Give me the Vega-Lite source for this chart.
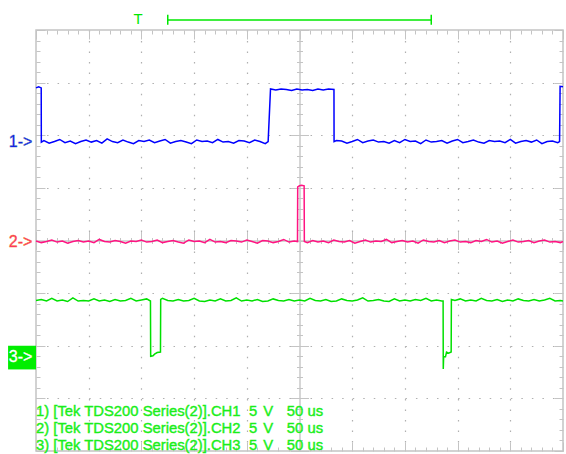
{
  "$schema": "https://vega.github.io/schema/vega-lite/v6.json",
  "width": 527,
  "height": 421,
  "autosize": {"type": "none"},
  "padding": {"left": 36, "top": 30, "right": 3, "bottom": 3},
  "background": "white",
  "config": {
    "view": {"stroke": "#c4c4c4", "strokeWidth": 1.5},
    "axis": {"labels": false, "domain": false, "grid": false, "tickColor": "#c4c4c4", "tickWidth": 1},
    "text": {"font": "Liberation Sans"}
  },
  "resolve": {"axis": {"x": "independent", "y": "independent"}},
  "datasets": {
    "traces": [
      {"c":"CH1","x":0,"y":2.9},{"c":"CH1","x":0.05,"y":2.92},{"c":"CH1","x":0.099,"y":2.9},{"c":"CH1","x":0.101,"y":1.87},
      {"c":"CH1","x":0.15,"y":1.9},{"c":"CH1","x":0.25,"y":1.85},{"c":"CH1","x":0.35,"y":1.88},{"c":"CH1","x":0.45,"y":1.92},{"c":"CH1","x":0.55,"y":1.86},{"c":"CH1","x":0.65,"y":1.89},{"c":"CH1","x":0.75,"y":1.84},{"c":"CH1","x":0.85,"y":1.88},{"c":"CH1","x":0.95,"y":1.91},{"c":"CH1","x":1.05,"y":1.87},
      {"c":"CH1","x":1.15,"y":1.9},{"c":"CH1","x":1.25,"y":1.85},{"c":"CH1","x":1.35,"y":1.93},{"c":"CH1","x":1.45,"y":1.88},{"c":"CH1","x":1.55,"y":1.86},{"c":"CH1","x":1.65,"y":1.91},{"c":"CH1","x":1.75,"y":1.87},{"c":"CH1","x":1.85,"y":1.84},{"c":"CH1","x":1.95,"y":1.9},{"c":"CH1","x":2.05,"y":1.88},
      {"c":"CH1","x":2.15,"y":1.91},{"c":"CH1","x":2.25,"y":1.86},{"c":"CH1","x":2.35,"y":1.89},{"c":"CH1","x":2.45,"y":1.92},{"c":"CH1","x":2.55,"y":1.85},{"c":"CH1","x":2.65,"y":1.88},{"c":"CH1","x":2.75,"y":1.9},{"c":"CH1","x":2.85,"y":1.87},{"c":"CH1","x":2.95,"y":1.84},{"c":"CH1","x":3.05,"y":1.91},
      {"c":"CH1","x":3.15,"y":1.88},{"c":"CH1","x":3.25,"y":1.89},{"c":"CH1","x":3.35,"y":1.86},{"c":"CH1","x":3.45,"y":1.92},{"c":"CH1","x":3.55,"y":1.87},{"c":"CH1","x":3.65,"y":1.88},{"c":"CH1","x":3.75,"y":1.85},{"c":"CH1","x":3.85,"y":1.9},{"c":"CH1","x":3.95,"y":1.89},{"c":"CH1","x":4.05,"y":1.86},
      {"c":"CH1","x":4.15,"y":1.91},{"c":"CH1","x":4.25,"y":1.88},{"c":"CH1","x":4.35,"y":1.84},{"c":"CH1","x":4.405,"y":1.88},{"c":"CH1","x":4.45,"y":2.88},
      {"c":"CH1","x":4.55,"y":2.86},{"c":"CH1","x":4.65,"y":2.88},{"c":"CH1","x":4.75,"y":2.87},{"c":"CH1","x":4.85,"y":2.85},{"c":"CH1","x":4.95,"y":2.88},{"c":"CH1","x":5.05,"y":2.86},{"c":"CH1","x":5.15,"y":2.87},{"c":"CH1","x":5.25,"y":2.85},{"c":"CH1","x":5.35,"y":2.88},{"c":"CH1","x":5.45,"y":2.86},{"c":"CH1","x":5.55,"y":2.88},{"c":"CH1","x":5.654,"y":2.87},{"c":"CH1","x":5.656,"y":1.88},
      {"c":"CH1","x":5.7,"y":1.9},{"c":"CH1","x":5.8,"y":1.89},{"c":"CH1","x":5.9,"y":1.85},{"c":"CH1","x":6.0,"y":1.88},{"c":"CH1","x":6.1,"y":1.92},{"c":"CH1","x":6.2,"y":1.86},{"c":"CH1","x":6.3,"y":1.89},{"c":"CH1","x":6.4,"y":1.91},{"c":"CH1","x":6.5,"y":1.87},{"c":"CH1","x":6.6,"y":1.88},
      {"c":"CH1","x":6.7,"y":1.85},{"c":"CH1","x":6.8,"y":1.9},{"c":"CH1","x":6.9,"y":1.86},{"c":"CH1","x":7.0,"y":1.92},{"c":"CH1","x":7.1,"y":1.88},{"c":"CH1","x":7.2,"y":1.89},{"c":"CH1","x":7.3,"y":1.84},{"c":"CH1","x":7.4,"y":1.91},{"c":"CH1","x":7.5,"y":1.87},{"c":"CH1","x":7.6,"y":1.88},
      {"c":"CH1","x":7.7,"y":1.9},{"c":"CH1","x":7.8,"y":1.85},{"c":"CH1","x":7.9,"y":1.89},{"c":"CH1","x":8.0,"y":1.92},{"c":"CH1","x":8.1,"y":1.86},{"c":"CH1","x":8.2,"y":1.88},{"c":"CH1","x":8.3,"y":1.91},{"c":"CH1","x":8.4,"y":1.87},{"c":"CH1","x":8.5,"y":1.85},{"c":"CH1","x":8.6,"y":1.9},
      {"c":"CH1","x":8.7,"y":1.88},{"c":"CH1","x":8.8,"y":1.89},{"c":"CH1","x":8.9,"y":1.86},{"c":"CH1","x":9.0,"y":1.92},{"c":"CH1","x":9.1,"y":1.85},{"c":"CH1","x":9.2,"y":1.88},{"c":"CH1","x":9.3,"y":1.9},{"c":"CH1","x":9.4,"y":1.87},{"c":"CH1","x":9.5,"y":1.91},{"c":"CH1","x":9.6,"y":1.84},
      {"c":"CH1","x":9.7,"y":1.88},{"c":"CH1","x":9.8,"y":1.89},{"c":"CH1","x":9.9,"y":1.86},{"c":"CH1","x":9.935,"y":1.88},{"c":"CH1","x":9.945,"y":2.93},{"c":"CH1","x":10,"y":2.92},

      {"c":"CH2","x":0,"y":-0.01},{"c":"CH2","x":0.1,"y":-0.04},{"c":"CH2","x":0.2,"y":-0.02},{"c":"CH2","x":0.3,"y":0.01},{"c":"CH2","x":0.4,"y":-0.03},{"c":"CH2","x":0.5,"y":-0.01},{"c":"CH2","x":0.6,"y":-0.05},{"c":"CH2","x":0.7,"y":-0.02},{"c":"CH2","x":0.8,"y":0.0},{"c":"CH2","x":0.9,"y":-0.03},
      {"c":"CH2","x":1.0,"y":-0.01},{"c":"CH2","x":1.1,"y":-0.04},{"c":"CH2","x":1.2,"y":0.02},{"c":"CH2","x":1.3,"y":-0.02},{"c":"CH2","x":1.4,"y":-0.03},{"c":"CH2","x":1.5,"y":0.0},{"c":"CH2","x":1.6,"y":-0.02},{"c":"CH2","x":1.7,"y":-0.05},{"c":"CH2","x":1.8,"y":-0.01},{"c":"CH2","x":1.9,"y":-0.02},
      {"c":"CH2","x":2.0,"y":0.01},{"c":"CH2","x":2.1,"y":-0.03},{"c":"CH2","x":2.2,"y":-0.02},{"c":"CH2","x":2.3,"y":0.01},{"c":"CH2","x":2.4,"y":-0.04},{"c":"CH2","x":2.5,"y":-0.02},{"c":"CH2","x":2.6,"y":0.0},{"c":"CH2","x":2.7,"y":-0.03},{"c":"CH2","x":2.8,"y":-0.05},{"c":"CH2","x":2.9,"y":0.01},
      {"c":"CH2","x":3.0,"y":-0.02},{"c":"CH2","x":3.1,"y":-0.01},{"c":"CH2","x":3.2,"y":-0.04},{"c":"CH2","x":3.3,"y":0.02},{"c":"CH2","x":3.4,"y":-0.03},{"c":"CH2","x":3.5,"y":-0.02},{"c":"CH2","x":3.6,"y":-0.04},{"c":"CH2","x":3.7,"y":0.0},{"c":"CH2","x":3.8,"y":-0.01},{"c":"CH2","x":3.9,"y":-0.03},
      {"c":"CH2","x":4.0,"y":0.01},{"c":"CH2","x":4.1,"y":-0.02},{"c":"CH2","x":4.2,"y":-0.05},{"c":"CH2","x":4.3,"y":0.0},{"c":"CH2","x":4.4,"y":-0.01},{"c":"CH2","x":4.5,"y":-0.04},{"c":"CH2","x":4.6,"y":-0.02},{"c":"CH2","x":4.7,"y":0.02},{"c":"CH2","x":4.8,"y":-0.03},{"c":"CH2","x":4.9,"y":-0.01},
      {"c":"CH2","x":4.962,"y":-0.02},{"c":"CH2","x":4.966,"y":1.02},{"c":"CH2","x":5.0,"y":1.04},{"c":"CH2","x":5.04,"y":1.05},{"c":"CH2","x":5.088,"y":1.04},{"c":"CH2","x":5.092,"y":-0.02},
      {"c":"CH2","x":5.15,"y":-0.04},{"c":"CH2","x":5.25,"y":0.0},{"c":"CH2","x":5.35,"y":-0.03},{"c":"CH2","x":5.45,"y":-0.01},{"c":"CH2","x":5.55,"y":-0.04},{"c":"CH2","x":5.65,"y":0.01},{"c":"CH2","x":5.75,"y":-0.02},{"c":"CH2","x":5.85,"y":-0.03},{"c":"CH2","x":5.95,"y":0.0},{"c":"CH2","x":6.05,"y":-0.05},
      {"c":"CH2","x":6.15,"y":-0.02},{"c":"CH2","x":6.25,"y":0.01},{"c":"CH2","x":6.35,"y":-0.03},{"c":"CH2","x":6.45,"y":-0.01},{"c":"CH2","x":6.55,"y":-0.02},{"c":"CH2","x":6.65,"y":0.02},{"c":"CH2","x":6.75,"y":-0.04},{"c":"CH2","x":6.85,"y":-0.02},{"c":"CH2","x":6.95,"y":0.0},{"c":"CH2","x":7.05,"y":-0.03},
      {"c":"CH2","x":7.15,"y":-0.01},{"c":"CH2","x":7.25,"y":-0.05},{"c":"CH2","x":7.35,"y":0.01},{"c":"CH2","x":7.45,"y":-0.02},{"c":"CH2","x":7.55,"y":-0.03},{"c":"CH2","x":7.65,"y":0.0},{"c":"CH2","x":7.75,"y":-0.04},{"c":"CH2","x":7.85,"y":-0.01},{"c":"CH2","x":7.95,"y":0.01},{"c":"CH2","x":8.05,"y":-0.03},
      {"c":"CH2","x":8.15,"y":-0.02},{"c":"CH2","x":8.25,"y":-0.04},{"c":"CH2","x":8.35,"y":0.0},{"c":"CH2","x":8.45,"y":-0.02},{"c":"CH2","x":8.55,"y":0.02},{"c":"CH2","x":8.65,"y":-0.03},{"c":"CH2","x":8.75,"y":-0.01},{"c":"CH2","x":8.85,"y":-0.05},{"c":"CH2","x":8.95,"y":-0.02},{"c":"CH2","x":9.05,"y":0.01},
      {"c":"CH2","x":9.15,"y":-0.03},{"c":"CH2","x":9.25,"y":-0.02},{"c":"CH2","x":9.35,"y":0.0},{"c":"CH2","x":9.45,"y":-0.04},{"c":"CH2","x":9.55,"y":-0.01},{"c":"CH2","x":9.65,"y":0.01},{"c":"CH2","x":9.75,"y":-0.03},{"c":"CH2","x":9.85,"y":-0.02},{"c":"CH2","x":9.95,"y":-0.04},{"c":"CH2","x":10,"y":-0.02},

      {"c":"CH3","x":0,"y":-1.14},{"c":"CH3","x":0.1,"y":-1.12},{"c":"CH3","x":0.2,"y":-1.15},{"c":"CH3","x":0.3,"y":-1.1},{"c":"CH3","x":0.4,"y":-1.15},{"c":"CH3","x":0.5,"y":-1.13},{"c":"CH3","x":0.6,"y":-1.16},{"c":"CH3","x":0.7,"y":-1.09},{"c":"CH3","x":0.8,"y":-1.15},{"c":"CH3","x":0.9,"y":-1.14},
      {"c":"CH3","x":1.0,"y":-1.15},{"c":"CH3","x":1.1,"y":-1.11},{"c":"CH3","x":1.2,"y":-1.15},{"c":"CH3","x":1.3,"y":-1.13},{"c":"CH3","x":1.4,"y":-1.16},{"c":"CH3","x":1.5,"y":-1.12},{"c":"CH3","x":1.6,"y":-1.15},{"c":"CH3","x":1.7,"y":-1.14},{"c":"CH3","x":1.8,"y":-1.1},{"c":"CH3","x":1.9,"y":-1.15},
      {"c":"CH3","x":2.0,"y":-1.13},{"c":"CH3","x":2.1,"y":-1.11},{"c":"CH3","x":2.172,"y":-1.15},{"c":"CH3","x":2.176,"y":-2.2},{"c":"CH3","x":2.22,"y":-2.19},{"c":"CH3","x":2.25,"y":-2.16},{"c":"CH3","x":2.3,"y":-2.13},{"c":"CH3","x":2.362,"y":-2.12},{"c":"CH3","x":2.366,"y":-1.12},
      {"c":"CH3","x":2.4,"y":-1.1},{"c":"CH3","x":2.5,"y":-1.14},{"c":"CH3","x":2.6,"y":-1.15},{"c":"CH3","x":2.7,"y":-1.12},{"c":"CH3","x":2.8,"y":-1.15},{"c":"CH3","x":2.9,"y":-1.14},{"c":"CH3","x":3.0,"y":-1.1},{"c":"CH3","x":3.1,"y":-1.15},{"c":"CH3","x":3.2,"y":-1.16},{"c":"CH3","x":3.3,"y":-1.13},
      {"c":"CH3","x":3.4,"y":-1.15},{"c":"CH3","x":3.5,"y":-1.11},{"c":"CH3","x":3.6,"y":-1.15},{"c":"CH3","x":3.7,"y":-1.14},{"c":"CH3","x":3.8,"y":-1.09},{"c":"CH3","x":3.9,"y":-1.15},{"c":"CH3","x":4.0,"y":-1.13},{"c":"CH3","x":4.1,"y":-1.15},{"c":"CH3","x":4.2,"y":-1.12},{"c":"CH3","x":4.3,"y":-1.16},
      {"c":"CH3","x":4.4,"y":-1.15},{"c":"CH3","x":4.5,"y":-1.11},{"c":"CH3","x":4.6,"y":-1.14},{"c":"CH3","x":4.7,"y":-1.15},{"c":"CH3","x":4.8,"y":-1.12},{"c":"CH3","x":4.9,"y":-1.15},{"c":"CH3","x":5.0,"y":-1.13},{"c":"CH3","x":5.1,"y":-1.15},{"c":"CH3","x":5.2,"y":-1.1},{"c":"CH3","x":5.3,"y":-1.14},
      {"c":"CH3","x":5.4,"y":-1.15},{"c":"CH3","x":5.5,"y":-1.12},{"c":"CH3","x":5.6,"y":-1.16},{"c":"CH3","x":5.7,"y":-1.15},{"c":"CH3","x":5.8,"y":-1.11},{"c":"CH3","x":5.9,"y":-1.14},{"c":"CH3","x":6.0,"y":-1.15},{"c":"CH3","x":6.1,"y":-1.13},{"c":"CH3","x":6.2,"y":-1.09},{"c":"CH3","x":6.3,"y":-1.15},
      {"c":"CH3","x":6.4,"y":-1.14},{"c":"CH3","x":6.5,"y":-1.12},{"c":"CH3","x":6.6,"y":-1.15},{"c":"CH3","x":6.7,"y":-1.16},{"c":"CH3","x":6.8,"y":-1.11},{"c":"CH3","x":6.9,"y":-1.15},{"c":"CH3","x":7.0,"y":-1.13},{"c":"CH3","x":7.1,"y":-1.15},{"c":"CH3","x":7.2,"y":-1.12},{"c":"CH3","x":7.3,"y":-1.14},
      {"c":"CH3","x":7.4,"y":-1.1},{"c":"CH3","x":7.5,"y":-1.15},{"c":"CH3","x":7.6,"y":-1.13},{"c":"CH3","x":7.7,"y":-1.15},{"c":"CH3","x":7.725,"y":-1.15},{"c":"CH3","x":7.728,"y":-2.44},{"c":"CH3","x":7.735,"y":-2.21},{"c":"CH3","x":7.77,"y":-2.21},{"c":"CH3","x":7.79,"y":-2.12},{"c":"CH3","x":7.83,"y":-2.14},{"c":"CH3","x":7.878,"y":-2.12},{"c":"CH3","x":7.882,"y":-1.12},
      {"c":"CH3","x":7.95,"y":-1.14},{"c":"CH3","x":8.05,"y":-1.11},{"c":"CH3","x":8.15,"y":-1.15},{"c":"CH3","x":8.25,"y":-1.13},{"c":"CH3","x":8.35,"y":-1.15},{"c":"CH3","x":8.45,"y":-1.1},{"c":"CH3","x":8.55,"y":-1.14},{"c":"CH3","x":8.65,"y":-1.15},{"c":"CH3","x":8.75,"y":-1.12},{"c":"CH3","x":8.85,"y":-1.16},
      {"c":"CH3","x":8.95,"y":-1.13},{"c":"CH3","x":9.05,"y":-1.15},{"c":"CH3","x":9.15,"y":-1.11},{"c":"CH3","x":9.25,"y":-1.14},{"c":"CH3","x":9.35,"y":-1.15},{"c":"CH3","x":9.45,"y":-1.12},{"c":"CH3","x":9.55,"y":-1.15},{"c":"CH3","x":9.65,"y":-1.13},{"c":"CH3","x":9.75,"y":-1.1},{"c":"CH3","x":9.85,"y":-1.15},{"c":"CH3","x":9.95,"y":-1.14},{"c":"CH3","x":10,"y":-1.15}
    ],
    "bar": [{"x": 2.5, "x2": 7.5, "y": 4.19}],
    "caps": [{"x": 2.5, "y": 4.1, "y2": 4.29}, {"x": 7.5, "y": 4.1, "y2": 4.29}],
    "box": [{"x": -0.53, "x2": 0, "y": -2.0, "y2": -2.45}],
    "markers": [{"c": "CH1", "x": -0.07, "y": 1.87, "t": "1->"}, {"c": "CH2", "x": -0.07, "y": -0.02, "t": "2->"}],
    "marker3": [{"x": -0.07, "y": -2.215, "t": "3->"}],
    "trig": [{"x": 1.935, "y": 4.114, "t": "T"}],
    "info": [
      {"x": 0, "y": -3.337, "t": "1) [Tek TDS200 Series(2)].CH1"},
      {"x": 4.04, "y": -3.337, "t": "5"},
      {"x": 4.31, "y": -3.337, "t": "V"},
      {"x": 4.76, "y": -3.337, "t": "50 us"},
      {"x": 0, "y": -3.654, "t": "2) [Tek TDS200 Series(2)].CH2"},
      {"x": 4.04, "y": -3.654, "t": "5"},
      {"x": 4.31, "y": -3.654, "t": "V"},
      {"x": 4.76, "y": -3.654, "t": "50 us"},
      {"x": 0, "y": -3.983, "t": "3) [Tek TDS200 Series(2)].CH3"},
      {"x": 4.04, "y": -3.983, "t": "5"},
      {"x": 4.31, "y": -3.983, "t": "V"},
      {"x": 4.76, "y": -3.983, "t": "50 us"}
    ]
  },
  "layer": [
    {
      "data": {"name": "traces"},
      "mark": {"type": "line", "strokeWidth": 1.5},
      "encoding": {
        "x": {"field": "x", "type": "quantitative", "scale": {"domain": [0, 10], "nice": false, "zero": false},
          "axis": {"orient": "bottom", "title": null, "labels": false, "domain": false,
            "values": [0,0.2,0.4,0.6,0.8,1,1.2,1.4,1.6,1.8,2,2.2,2.4,2.6,2.8,3,3.2,3.4,3.6,3.8,4,4.2,4.4,4.6,4.8,5,5.2,5.4,5.6,5.8,6,6.2,6.4,6.6,6.8,7,7.2,7.4,7.6,7.8,8,8.2,8.4,8.6,8.8,9,9.2,9.4,9.6,9.8,10],
            "tickSize": {"condition": {"test": "abs(datum.value-round(datum.value))<0.01", "value": -9}, "value": -4},
            "grid": true, "gridColor": "#b0b0b0", "gridWidth": 1.2, "gridDash": [1.5, 9.025],
            "gridOpacity": {"condition": {"test": "abs(datum.value-round(datum.value))<0.01 && datum.value>0.5 && datum.value<9.5 && abs(datum.value-5)>0.5", "value": 1}, "value": 0}}},
        "y": {"field": "y", "type": "quantitative", "scale": {"domain": [-4, 4], "nice": false, "zero": false},
          "axis": {"orient": "left", "title": null, "labels": false, "domain": false,
            "values": [-4,-3.8,-3.6,-3.4,-3.2,-3,-2.8,-2.6,-2.4,-2.2,-2,-1.8,-1.6,-1.4,-1.2,-1,-0.8,-0.6,-0.4,-0.2,0,0.2,0.4,0.6,0.8,1,1.2,1.4,1.6,1.8,2,2.2,2.4,2.6,2.8,3,3.2,3.4,3.6,3.8,4],
            "tickSize": {"condition": {"test": "abs(datum.value-round(datum.value))<0.01", "value": -9}, "value": -4},
            "grid": true, "gridColor": "#b0b0b0", "gridWidth": 1.2, "gridDash": [1.5, 9.04],
            "gridOpacity": {"condition": {"test": "abs(datum.value-round(datum.value))<0.01 && datum.value>-3.5 && datum.value<3.5 && abs(datum.value)>0.5", "value": 1}, "value": 0}}},
        "color": {"field": "c", "type": "nominal", "scale": {"domain": ["CH1", "CH2", "CH3"], "range": ["#0000ff", "#ff1482", "#00e000"]}, "legend": null}
      }
    },
    {
      "data": {"name": "bar"},
      "mark": {"type": "rule", "color": "#00e800", "strokeWidth": 1.5},
      "encoding": {
        "x": {"field": "x", "type": "quantitative", "scale": {"domain": [0, 10], "nice": false, "zero": false},
          "axis": {"orient": "top", "title": null, "labels": false, "domain": false,
            "values": [0,0.2,0.4,0.6,0.8,1,1.2,1.4,1.6,1.8,2,2.2,2.4,2.6,2.8,3,3.2,3.4,3.6,3.8,4,4.2,4.4,4.6,4.8,5,5.2,5.4,5.6,5.8,6,6.2,6.4,6.6,6.8,7,7.2,7.4,7.6,7.8,8,8.2,8.4,8.6,8.8,9,9.2,9.4,9.6,9.8,10],
            "tickSize": {"condition": {"test": "abs(datum.value-round(datum.value))<0.01", "value": -9}, "value": -4}}},
        "x2": {"field": "x2"},
        "y": {"field": "y", "type": "quantitative", "scale": {"domain": [-4, 4], "nice": false, "zero": false},
          "axis": {"orient": "right", "title": null, "labels": false, "domain": false,
            "values": [-4,-3.8,-3.6,-3.4,-3.2,-3,-2.8,-2.6,-2.4,-2.2,-2,-1.8,-1.6,-1.4,-1.2,-1,-0.8,-0.6,-0.4,-0.2,0,0.2,0.4,0.6,0.8,1,1.2,1.4,1.6,1.8,2,2.2,2.4,2.6,2.8,3,3.2,3.4,3.6,3.8,4],
            "tickSize": {"condition": {"test": "abs(datum.value-round(datum.value))<0.01", "value": -9}, "value": -4}}}
      }
    },
    {
      "data": {"name": "caps"},
      "mark": {"type": "rule", "color": "#00e800", "strokeWidth": 1.5},
      "encoding": {
        "x": {"field": "x", "type": "quantitative", "scale": {"domain": [0, 10], "nice": false, "zero": false},
          "axis": {"orient": "bottom", "offset": -210.5, "title": null, "labels": false, "domain": true, "domainColor": "#c8c8c8", "domainWidth": 1.5,
            "values": [0,0.2,0.4,0.6,0.8,1,1.2,1.4,1.6,1.8,2,2.2,2.4,2.6,2.8,3,3.2,3.4,3.6,3.8,4,4.2,4.4,4.6,4.8,5,5.2,5.4,5.6,5.8,6,6.2,6.4,6.6,6.8,7,7.2,7.4,7.6,7.8,8,8.2,8.4,8.6,8.8,9,9.2,9.4,9.6,9.8,10],
            "tickSize": {"condition": {"test": "abs(datum.value-round(datum.value))<0.01", "value": 9}, "value": 3}}},
        "y": {"field": "y", "type": "quantitative", "scale": {"domain": [-4, 4], "nice": false, "zero": false},
          "axis": {"orient": "left", "offset": -263.5, "title": null, "labels": false, "domain": true, "domainColor": "#c8c8c8", "domainWidth": 1.5,
            "values": [-4,-3.8,-3.6,-3.4,-3.2,-3,-2.8,-2.6,-2.4,-2.2,-2,-1.8,-1.6,-1.4,-1.2,-1,-0.8,-0.6,-0.4,-0.2,0,0.2,0.4,0.6,0.8,1,1.2,1.4,1.6,1.8,2,2.2,2.4,2.6,2.8,3,3.2,3.4,3.6,3.8,4],
            "tickSize": {"condition": {"test": "abs(datum.value-round(datum.value))<0.01", "value": 9}, "value": 3}}},
        "y2": {"field": "y2"}
      }
    },
    {
      "data": {"name": "box"},
      "mark": {"type": "rect", "color": "#00ee00"},
      "encoding": {
        "x": {"field": "x", "type": "quantitative", "scale": {"domain": [0, 10], "nice": false, "zero": false},
          "axis": {"orient": "bottom", "offset": -210.5, "title": null, "labels": false, "domain": false,
            "values": [0,0.2,0.4,0.6,0.8,1,1.2,1.4,1.6,1.8,2,2.2,2.4,2.6,2.8,3,3.2,3.4,3.6,3.8,4,4.2,4.4,4.6,4.8,5,5.2,5.4,5.6,5.8,6,6.2,6.4,6.6,6.8,7,7.2,7.4,7.6,7.8,8,8.2,8.4,8.6,8.8,9,9.2,9.4,9.6,9.8,10],
            "tickSize": {"condition": {"test": "abs(datum.value-round(datum.value))<0.01", "value": -9}, "value": -3}}},
        "x2": {"field": "x2"},
        "y": {"field": "y", "type": "quantitative", "scale": {"domain": [-4, 4], "nice": false, "zero": false},
          "axis": {"orient": "left", "offset": -263.5, "title": null, "labels": false, "domain": false,
            "values": [-4,-3.8,-3.6,-3.4,-3.2,-3,-2.8,-2.6,-2.4,-2.2,-2,-1.8,-1.6,-1.4,-1.2,-1,-0.8,-0.6,-0.4,-0.2,0,0.2,0.4,0.6,0.8,1,1.2,1.4,1.6,1.8,2,2.2,2.4,2.6,2.8,3,3.2,3.4,3.6,3.8,4],
            "tickSize": {"condition": {"test": "abs(datum.value-round(datum.value))<0.01", "value": -9}, "value": -3}}},
        "y2": {"field": "y2"}
      }
    },
    {
      "data": {"name": "markers"},
      "mark": {"type": "text", "fontSize": 16, "align": "right", "baseline": "middle", "strokeWidth": 0.4},
      "encoding": {
        "x": {"field": "x", "type": "quantitative", "scale": {"domain": [0, 10], "nice": false, "zero": false}, "axis": null},
        "y": {"field": "y", "type": "quantitative", "scale": {"domain": [-4, 4], "nice": false, "zero": false}, "axis": null},
        "text": {"field": "t"},
        "color": {"field": "c", "type": "nominal", "legend": null},
        "stroke": {"field": "c", "type": "nominal", "legend": null}
      }
    },
    {
      "data": {"name": "marker3"},
      "mark": {"type": "text", "fontSize": 16, "align": "right", "baseline": "middle", "color": "white", "stroke": "white", "strokeWidth": 0.3},
      "encoding": {
        "x": {"field": "x", "type": "quantitative", "scale": {"domain": [0, 10], "nice": false, "zero": false}, "axis": null},
        "y": {"field": "y", "type": "quantitative", "scale": {"domain": [-4, 4], "nice": false, "zero": false}, "axis": null},
        "text": {"field": "t"}
      }
    },
    {
      "data": {"name": "trig"},
      "mark": {"type": "text", "fontSize": 15, "align": "center", "baseline": "alphabetic", "color": "#00e800"},
      "encoding": {
        "x": {"field": "x", "type": "quantitative", "scale": {"domain": [0, 10], "nice": false, "zero": false}, "axis": null},
        "y": {"field": "y", "type": "quantitative", "scale": {"domain": [-4, 4], "nice": false, "zero": false}, "axis": null},
        "text": {"field": "t"}
      }
    },
    {
      "data": {"name": "info"},
      "mark": {"type": "text", "fontSize": 14.8, "align": "left", "baseline": "alphabetic", "color": "#1aee1a", "stroke": "#1aee1a", "strokeWidth": 0.4},
      "encoding": {
        "x": {"field": "x", "type": "quantitative", "scale": {"domain": [0, 10], "nice": false, "zero": false}, "axis": null},
        "y": {"field": "y", "type": "quantitative", "scale": {"domain": [-4, 4], "nice": false, "zero": false}, "axis": null},
        "text": {"field": "t"}
      }
    }
  ]
}
